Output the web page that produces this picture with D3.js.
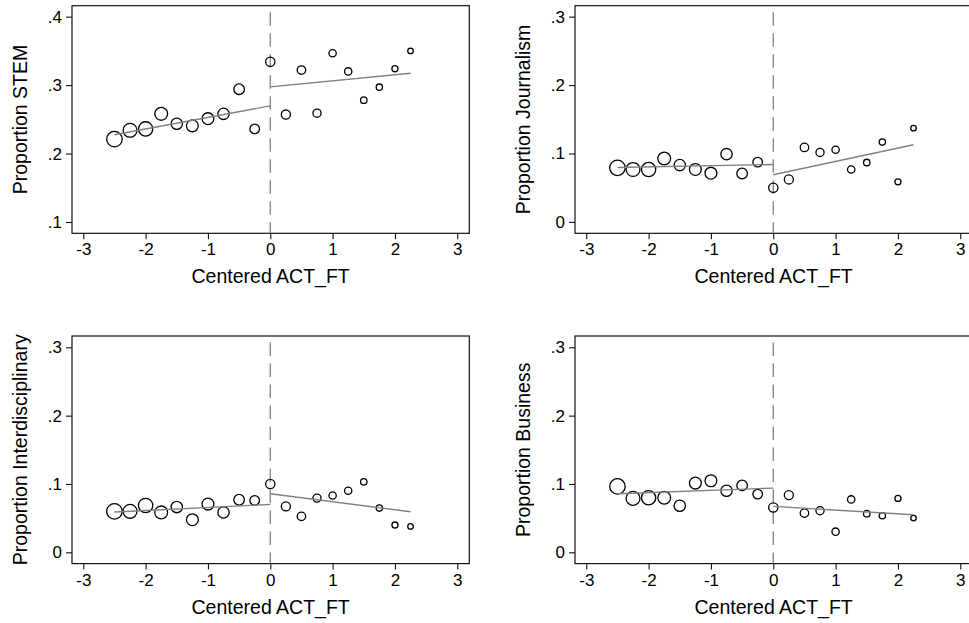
<!DOCTYPE html>
<html>
<head>
<meta charset="utf-8">
<script src="https://cdn.jsdelivr.net/npm/d3@7/dist/d3.min.js"></script>
<style>
  html, body { margin: 0; padding: 0; background: #fff; }
  svg { display: block; }
  text { font-family: "Liberation Sans", Arial, Helvetica, sans-serif; fill: #000; }
</style>
</head>
<body>
<svg id="chart" width="969" height="623"></svg>
<script>
// ---- Data ----
const binCenters = [-2.5, -2.25, -2.0, -1.75, -1.5, -1.25, -1.0, -0.75, -0.5, -0.25,
                    0, 0.25, 0.5, 0.75, 1.0, 1.25, 1.5, 1.75, 2.0, 2.25];
// relative number of observations per bin (marker size weight)
const binCounts = [600, 480, 510, 410, 320, 350, 350, 320, 280, 230,
                   215, 205, 180, 165, 135, 135, 105, 100, 93, 76];

const stemValues = [0.221, 0.234, 0.236, 0.258, 0.2435, 0.2405, 0.251, 0.258, 0.294, 0.236,
                    0.334, 0.257, 0.322, 0.259, 0.3465, 0.320, 0.278, 0.297, 0.324, 0.350];
const journalismValues = [0.079, 0.0766, 0.0766, 0.0927, 0.083, 0.0766, 0.0712, 0.099, 0.0707, 0.0873,
                          0.0498, 0.062, 0.1088, 0.1015, 0.1054, 0.0766, 0.0868, 0.1166, 0.0585, 0.137];
const interdiscValues = [0.0599, 0.060, 0.0686, 0.0584, 0.0662, 0.0477, 0.0706, 0.0584, 0.0769, 0.076,
                         0.100, 0.0672, 0.0526, 0.0793, 0.0832, 0.0901, 0.1032, 0.0647, 0.0399, 0.0379];
const businessValues = [0.0964, 0.0789, 0.0798, 0.0798, 0.0681, 0.1013, 0.1047, 0.0901, 0.0979, 0.0852,
                        0.0657, 0.0837, 0.0574, 0.0608, 0.0302, 0.0774, 0.0565, 0.0535, 0.0789, 0.0501];

// fitted lines: endpoints left and right of cutoff
const stemFit = { left: [[-2.5, 0.2274], [0, 0.2697]], right: [[0, 0.2974], [2.25, 0.3174]] };
const journalismFit = { left: [[-2.5, 0.0795], [0, 0.0839]], right: [[0, 0.0688], [2.25, 0.1127]] };
const interdiscFit = { left: [[-2.5, 0.0589], [0, 0.0701]], right: [[0, 0.0857], [2.25, 0.0594]] };
const businessFit = { left: [[-2.5, 0.0857], [0, 0.094]], right: [[0, 0.0672], [2.25, 0.055]] };

const xTicks = [-3, -2, -1, 0, 1, 2, 3];
const xTickLabels = ["-3", "-2", "-1", "0", "1", "2", "3"];
const yTicksStem = [0.1, 0.2, 0.3, 0.4];
const yTickLabelsStem = [".1", ".2", ".3", ".4"];
const yTicksOther = [0, 0.1, 0.2, 0.3];
const yTickLabelsOther = ["0", ".1", ".2", ".3"];

const xTitle = "Centered ACT_FT";
const panelTitles = ["Proportion STEM", "Proportion Journalism", "Proportion Interdisciplinary", "Proportion Business"];

// ---- Layout ----
const svg = d3.select("#chart");
const W = 397.3, H = 227.6;
const xDomain = [-3.181, 3.193];

const panels = [
  { left: 72, top: 5.7, values: stemValues, fit: stemFit, yDomain: [0.0835, 0.416], ticks: yTicksStem, labels: yTickLabelsStem, title: panelTitles[0] },
  { left: 575, top: 5.7, values: journalismValues, fit: journalismFit, yDomain: [-0.0167, 0.316], ticks: yTicksOther, labels: yTickLabelsOther, title: panelTitles[1] },
  { left: 72, top: 336, values: interdiscValues, fit: interdiscFit, yDomain: [-0.0165, 0.3165], ticks: yTicksOther, labels: yTickLabelsOther, title: panelTitles[2] },
  { left: 575, top: 336, values: businessValues, fit: businessFit, yDomain: [-0.0165, 0.3165], ticks: yTicksOther, labels: yTickLabelsOther, title: panelTitles[3] }
];

const rScale = d3.scaleSqrt().domain([0, d3.max(binCounts)]).range([0, 7.75]);

panels.forEach(p => {
  const g = svg.append("g").attr("transform", `translate(${p.left},${p.top})`);
  const x = d3.scaleLinear().domain(xDomain).range([0, W]);
  const y = d3.scaleLinear().domain(p.yDomain).range([H, 0]);

  // frame
  g.append("rect").attr("x", 0).attr("y", 0).attr("width", W).attr("height", H)
    .attr("fill", "none").attr("stroke", "#111").attr("stroke-width", 1.2);

  // y axis
  const yAxis = d3.axisLeft(y).tickValues(p.ticks)
    .tickFormat((d, i) => p.labels[i]).tickSize(6).tickPadding(4);
  const ya = g.append("g").call(yAxis);
  ya.select(".domain").remove();
  ya.selectAll("line").attr("stroke", "#111").attr("stroke-width", 1.1);
  ya.selectAll("text").style("font-size", "17px").attr("fill", "#000")
    .style("font-family", '"Liberation Sans", Arial, sans-serif');

  // x axis
  const xAxis = d3.axisBottom(x).tickValues(xTicks)
    .tickFormat((d, i) => xTickLabels[i]).tickSize(6).tickPadding(4);
  const xa = g.append("g").attr("transform", `translate(0,${H})`).call(xAxis);
  xa.select(".domain").remove();
  xa.selectAll("line").attr("stroke", "#111").attr("stroke-width", 1.1);
  xa.selectAll("text").style("font-size", "17px").attr("fill", "#000")
    .style("font-family", '"Liberation Sans", Arial, sans-serif');

  // axis titles
  g.append("text").attr("x", W / 2).attr("y", H + 50)
    .attr("text-anchor", "middle").style("font-size", "19.5px").text(xTitle);
  g.append("text").attr("transform", `translate(${-45},${H / 2}) rotate(-90)`)
    .attr("text-anchor", "middle").style("font-size", "19.5px").text(p.title);

  // cutoff dashed line
  g.append("line").attr("x1", x(0)).attr("x2", x(0)).attr("y1", 6.6).attr("y2", H)
    .attr("stroke", "#808080").attr("stroke-width", 1.3).attr("stroke-dasharray", "13.5,7.5");

  // markers
  g.selectAll("circle.pt").data(binCenters.map((c, i) => ({ x: c, y: p.values[i], n: binCounts[i] })))
    .enter().append("circle").attr("class", "pt")
    .attr("cx", d => x(d.x)).attr("cy", d => y(d.y)).attr("r", d => rScale(d.n))
    .attr("fill", "none").attr("stroke", "#000").attr("stroke-width", 1.3);

  // fitted lines
  const line = d3.line().x(d => x(d[0])).y(d => y(d[1]));
  [p.fit.left, p.fit.right].forEach(seg => {
    g.append("path").attr("d", line(seg)).attr("fill", "none")
      .attr("stroke", "#808080").attr("stroke-width", 1.4);
  });
});
</script>
</body>
</html>
